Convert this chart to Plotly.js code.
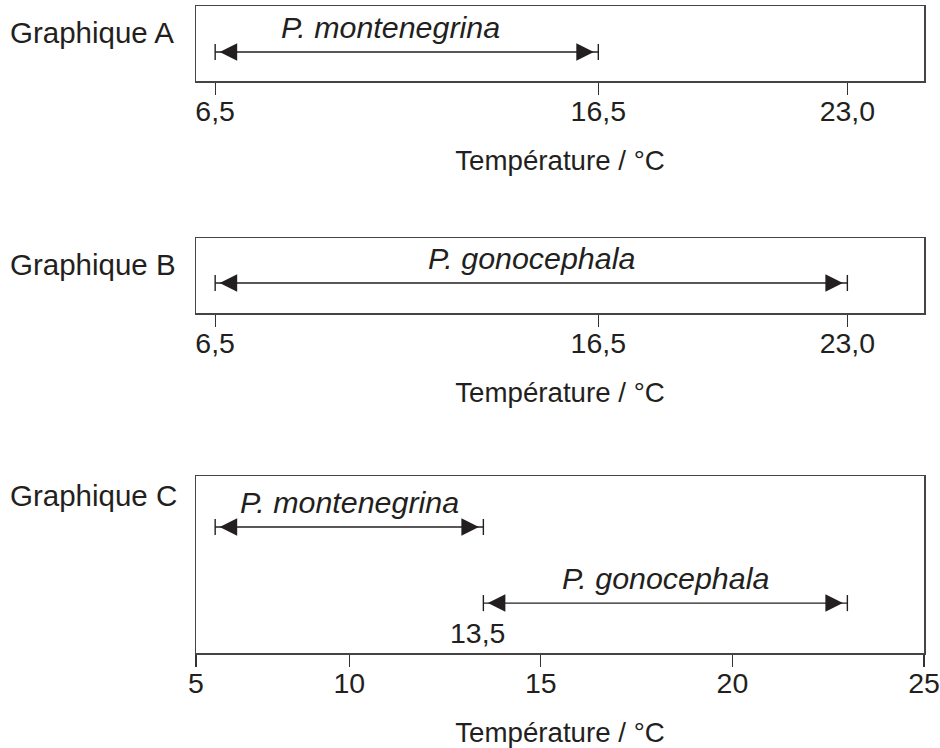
<!DOCTYPE html>
<html>
<head>
<meta charset="utf-8">
<script src="https://cdn.plot.ly/plotly-3.0.1.min.js"></script>
<style>html,body{margin:0;padding:0;background:#fff;}</style>
</head>
<body>
<div id="chart" style="width:940px;height:748px;"></div>
<script>
// ---- data ----
const panelLabels = ['Graphique A', 'Graphique B', 'Graphique C'];
const tickValsAB = [6.5, 16.5, 23.0];
const tickTextAB = ['6,5', '16,5', '23,0'];
// Graph C: the "5" tick sits at the start of the axis (axis break in the original)
const tickValsC = [6, 10, 15, 20, 25];
const tickTextC = ['5', '10', '15', '20', '25'];
const axisTitle = 'Température / °C';
const speciesA = 'P. montenegrina';
const speciesB = 'P. gonocephala';
const montenegrinaA = [6.5, 16.5];
const gonocephalaB = [6.5, 23.0];
const montenegrinaC = [6.5, 13.5];
const gonocephalaC = [13.5, 23.0];
const boundaryLabelC = '13,5';
const boundaryValueC = 13.5;

// ---- style ----
const INK = '#231f20';
const FONT = 'Liberation Sans, Arial, Helvetica, sans-serif';

function spanTrace(span, y, xa, ya) {
  return {
    x: span, y: [y, y], xaxis: xa, yaxis: ya,
    type: 'scatter', mode: 'lines+markers',
    line: {color: INK, width: 1.4},
    marker: {symbol: 'line-ns', size: 11.5, color: INK, line: {color: INK, width: 1.4}},
    hoverinfo: 'skip', showlegend: false
  };
}
// empty carrier trace so the label axis is drawn
function carrier(vals, xa, ya) {
  return {
    x: vals, y: vals.map(() => null), xaxis: xa, yaxis: ya,
    type: 'scatter', mode: 'markers', marker: {opacity: 0},
    hoverinfo: 'skip', showlegend: false
  };
}
function heads(span, y, xr, yr) {
  const base = {
    xref: xr, yref: yr, y: y, ay: 0,
    text: '', showarrow: true, arrowhead: 2, arrowsize: 2.5, arrowwidth: 1.4,
    arrowcolor: INK, standoff: 4.5
  };
  return [Object.assign({}, base, {x: span[0], ax: 20}), Object.assign({}, base, {x: span[1], ax: -20})];
}
function label(text, span, y, xr, yr, xshift) {
  return {
    xref: xr, yref: yr, x: (span[0] + span[1]) / 2, y: y, yshift: 25, xshift: xshift || 0,
    text: text, showarrow: false, yanchor: 'middle',
    font: {family: FONT, size: 30.4, color: INK, style: 'italic'}
  };
}

const yA = 0.387, yB = 0.40, yC1 = 0.712, yC2 = 0.282;

const traces = [
  spanTrace(montenegrinaA, yA, 'x', 'y'),
  spanTrace(gonocephalaB, yB, 'x2', 'y2'),
  spanTrace(montenegrinaC, yC1, 'x3', 'y3'),
  spanTrace(gonocephalaC, yC2, 'x3', 'y3'),
  carrier(tickValsAB, 'x4', 'y'),
  carrier(tickValsAB, 'x5', 'y2'),
  carrier(tickValsC, 'x6', 'y3')
];

// main axis: frame + tick marks
function xAxis(anchor, vals) {
  return {
    anchor: anchor, domain: [0, 1], range: [6, 25],
    tickmode: 'array', tickvals: vals, showticklabels: false,
    ticks: 'outside', ticklen: 12, tickwidth: 1.3, tickcolor: '#333',
    showline: true, linecolor: '#444', linewidth: 1.5, mirror: true,
    showgrid: false, zeroline: false, fixedrange: true
  };
}
// overlay axis: tick labels + title
function xLabelAxis(over, anchor, vals, text) {
  return {
    overlaying: over, anchor: anchor, range: [6, 25], side: 'bottom',
    tickmode: 'array', tickvals: vals, ticktext: text,
    ticks: 'outside', ticklen: 5, tickcolor: 'rgba(0,0,0,0)',
    showline: false, showgrid: false, zeroline: false, fixedrange: true,
    tickfont: {family: FONT, size: 28.5, color: INK},
    title: {text: axisTitle, standoff: 24, font: {family: FONT, size: 27.7, color: INK}}
  };
}
function yAxis(domain) {
  return {
    domain: domain, range: [0, 1], showline: true, linecolor: '#444', linewidth: 1.5,
    mirror: true, ticks: '', showticklabels: false, showgrid: false, zeroline: false,
    fixedrange: true
  };
}

const annotations = [].concat(
  heads(montenegrinaA, yA, 'x', 'y'),
  heads(gonocephalaB, yB, 'x2', 'y2'),
  heads(montenegrinaC, yC1, 'x3', 'y3'),
  heads(gonocephalaC, yC2, 'x3', 'y3'),
  [
    label(speciesA, montenegrinaA, yA, 'x', 'y', -16),
    label(speciesB, gonocephalaB, yB, 'x2', 'y2'),
    label(speciesA, montenegrinaC, yC1, 'x3', 'y3'),
    label(speciesB, gonocephalaC, yC2, 'x3', 'y3'),
    {xref: 'x3', yref: 'y3', x: boundaryValueC, y: 0.113, xshift: -6, text: boundaryLabelC,
     showarrow: false, font: {family: FONT, size: 28.5, color: INK}},
  ],
  panelLabels.map((t, i) => ({
    xref: 'paper', yref: 'paper', x: 0, xshift: -188, xanchor: 'left',
    y: [0.9572, 0.6470, 0.3369][i], yanchor: 'middle', text: t, showarrow: false,
    font: {family: FONT, size: 29.5, color: INK}
  }))
);

const layout = {
  width: 940, height: 748,
  margin: {l: 196, r: 16, t: 0, b: 0},
  paper_bgcolor: '#fff', plot_bgcolor: '#fff',
  showlegend: false,
  font: {family: FONT, color: INK},
  xaxis: xAxis('y', tickValsAB),
  xaxis2: xAxis('y2', tickValsAB),
  xaxis3: xAxis('y3', tickValsC),
  xaxis4: xLabelAxis('x', 'y', tickValsAB, tickTextAB),
  xaxis5: xLabelAxis('x2', 'y2', tickValsAB, tickTextAB),
  xaxis6: xLabelAxis('x3', 'y3', tickValsC, tickTextC),
  yaxis: yAxis([667 / 748, 742 / 748]),
  yaxis2: yAxis([435 / 748, 510 / 748]),
  yaxis3: yAxis([95 / 748, 272 / 748]),
  annotations: annotations
};

Plotly.newPlot('chart', traces, layout, {displayModeBar: false, staticPlot: true});
</script>
</body>
</html>
